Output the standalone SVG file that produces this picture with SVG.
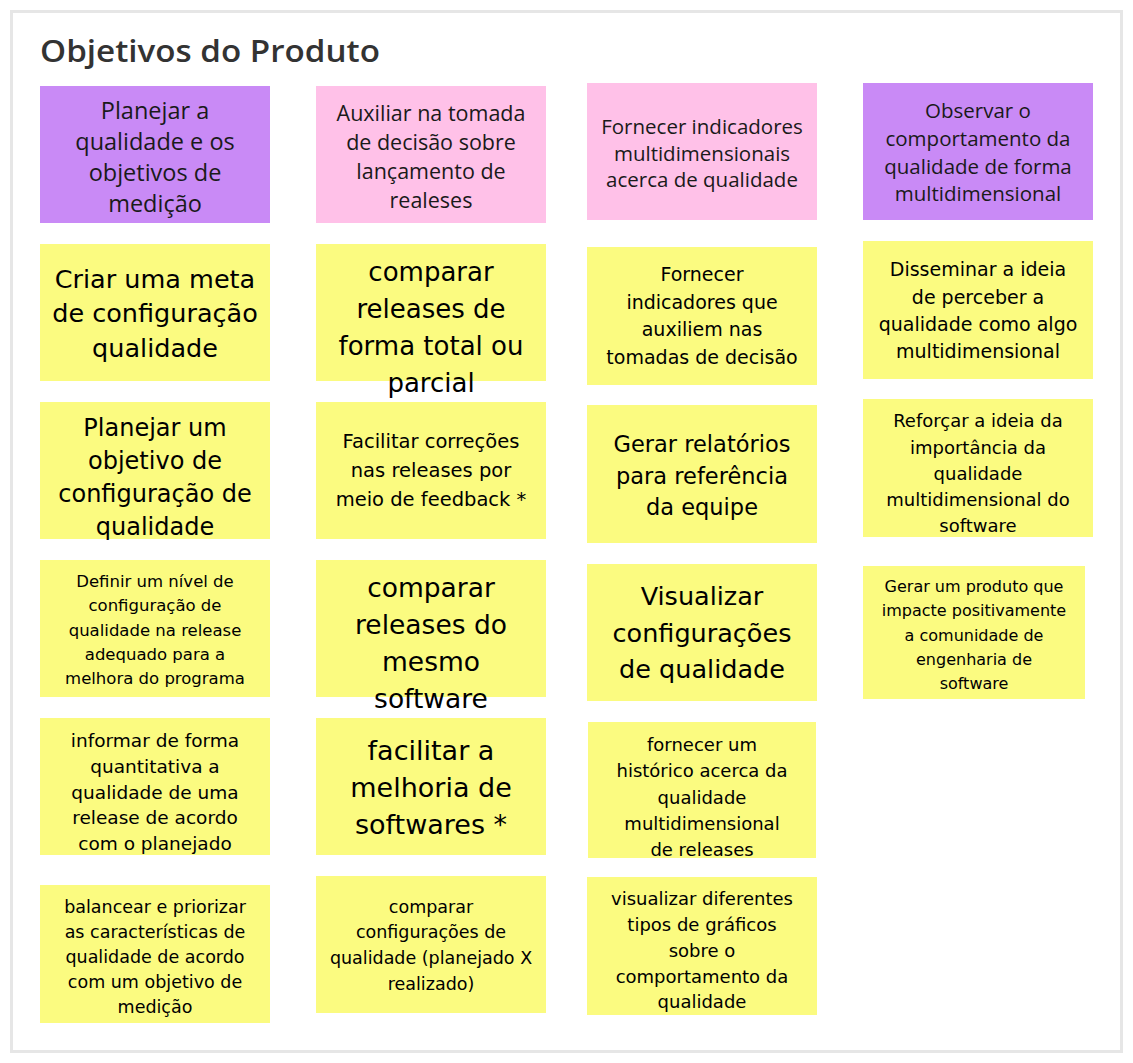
<svg xmlns="http://www.w3.org/2000/svg" width="1133" height="1063" viewBox="0 0 1133 1063">
<style>
.frame{fill:#ffffff;stroke:#e6e6e6;stroke-width:3}
.title{font-family:"Open Sans","Liberation Sans",sans-serif;font-size:31px;font-weight:600;fill:#333333}
.purple{fill:#c98af6}
.pink{fill:#ffc1e8}
.yellow{fill:#fbfb80}
.h{font-family:"Open Sans","Liberation Sans",sans-serif;fill:#1a1a1a;text-anchor:middle;dominant-baseline:central}
.s{font-family:"DejaVu Sans","Liberation Sans",sans-serif;fill:#000000;text-anchor:middle;dominant-baseline:central}
</style>
<rect class="frame" x="11.5" y="11.5" width="1110" height="1040"/>
<text class="title" x="40" y="62" textLength="340" lengthAdjust="spacingAndGlyphs">Objetivos do Produto</text>

<g id="nodes">
<g id="h1"><rect class="purple" x="40" y="86" width="230" height="137"/>
<text class="h" font-size="23.5" x="155"><tspan x="155" y="110">Planejar a</tspan><tspan x="155" y="141">qualidade e os</tspan><tspan x="155" y="172">objetivos de</tspan><tspan x="155" y="203">medição</tspan></text></g>
<g id="h2"><rect class="pink" x="316" y="86" width="230" height="137"/>
<text class="h" font-size="21.5" x="431"><tspan x="431" y="112">Auxiliar na tomada</tspan><tspan x="431" y="141">de decisão sobre</tspan><tspan x="431" y="170">lançamento de</tspan><tspan x="431" y="199">realeses</tspan></text></g>
<g id="h3"><rect class="pink" x="587" y="83" width="230" height="137"/>
<text class="h" font-size="20.5" x="702"><tspan x="702" y="126">Fornecer indicadores</tspan><tspan x="702" y="153">multidimensionais</tspan><tspan x="702" y="179">acerca de qualidade</tspan></text></g>
<g id="h4"><rect class="purple" x="863" y="83" width="230" height="137"/>
<text class="h" font-size="20.5" x="978"><tspan x="978" y="110">Observar o</tspan><tspan x="978" y="138">comportamento da</tspan><tspan x="978" y="166">qualidade de forma</tspan><tspan x="978" y="193">multidimensional</tspan></text></g>

<g id="c1y1"><rect class="yellow" x="40" y="244" width="230" height="137"/>
<text class="s" font-size="25.5" x="155"><tspan x="155" y="279">Criar uma meta</tspan><tspan x="155" y="313">de configuração</tspan><tspan x="155" y="348">qualidade</tspan></text></g>
<g id="c1y2"><rect class="yellow" x="40" y="402" width="230" height="137"/>
<text class="s" font-size="24" x="155"><tspan x="155" y="428">Planejar um</tspan><tspan x="155" y="461">objetivo de</tspan><tspan x="155" y="494">configuração de</tspan><tspan x="155" y="527">qualidade</tspan></text></g>
<g id="c1y3"><rect class="yellow" x="40" y="560" width="230" height="137"/>
<text class="s" font-size="16.5" x="155"><tspan x="155" y="581">Definir um nível de</tspan><tspan x="155" y="605">configuração de</tspan><tspan x="155" y="630">qualidade na release</tspan><tspan x="155" y="654">adequado para a</tspan><tspan x="155" y="678">melhora do programa</tspan></text></g>
<g id="c1y4"><rect class="yellow" x="40" y="718" width="230" height="137"/>
<text class="s" font-size="18.5" x="155"><tspan x="155" y="740">informar de forma</tspan><tspan x="155" y="766">quantitativa a</tspan><tspan x="155" y="792">qualidade de uma</tspan><tspan x="155" y="817">release de acordo</tspan><tspan x="155" y="843">com o planejado</tspan></text></g>
<g id="c1y5"><rect class="yellow" x="40" y="885" width="230" height="138"/>
<text class="s" font-size="17.5" x="155"><tspan x="155" y="907">balancear e priorizar</tspan><tspan x="155" y="932">as características de</tspan><tspan x="155" y="957">qualidade de acordo</tspan><tspan x="155" y="982">com um objetivo de</tspan><tspan x="155" y="1007">medição</tspan></text></g>

<g id="c2y1"><rect class="yellow" x="316" y="244" width="230" height="137"/>
<text class="s" font-size="26" x="431"><tspan x="431" y="272">comparar</tspan><tspan x="431" y="309">releases de</tspan><tspan x="431" y="346">forma total ou</tspan><tspan x="431" y="383">parcial</tspan></text></g>
<g id="c2y2"><rect class="yellow" x="316" y="402" width="230" height="137"/>
<text class="s" font-size="19.5" x="431"><tspan x="431" y="441">Facilitar correções</tspan><tspan x="431" y="470">nas releases por</tspan><tspan x="431" y="499">meio de feedback *</tspan></text></g>
<g id="c2y3"><rect class="yellow" x="316" y="560" width="230" height="137"/>
<text class="s" font-size="26.5" x="431"><tspan x="431" y="587">comparar</tspan><tspan x="431" y="624">releases do</tspan><tspan x="431" y="661">mesmo</tspan><tspan x="431" y="698">software</tspan></text></g>
<g id="c2y4"><rect class="yellow" x="316" y="718" width="230" height="137"/>
<text class="s" font-size="27" x="431"><tspan x="431" y="750">facilitar a</tspan><tspan x="431" y="787">melhoria de</tspan><tspan x="431" y="824">softwares *</tspan></text></g>
<g id="c2y5"><rect class="yellow" x="316" y="876" width="230" height="137"/>
<text class="s" font-size="17.5" x="431"><tspan x="431" y="907">comparar</tspan><tspan x="431" y="932">configurações de</tspan><tspan x="431" y="958">qualidade (planejado X</tspan><tspan x="431" y="984">realizado)</tspan></text></g>

<g id="c3y1"><rect class="yellow" x="587" y="247" width="230" height="138"/>
<text class="s" font-size="19" x="702"><tspan x="702" y="274">Fornecer</tspan><tspan x="702" y="302">indicadores que</tspan><tspan x="702" y="329">auxiliem nas</tspan><tspan x="702" y="357">tomadas de decisão</tspan></text></g>
<g id="c3y2"><rect class="yellow" x="587" y="405" width="230" height="138"/>
<text class="s" font-size="22.5" x="702"><tspan x="702" y="444">Gerar relatórios</tspan><tspan x="702" y="476">para referência</tspan><tspan x="702" y="507">da equipe</tspan></text></g>
<g id="c3y3"><rect class="yellow" x="587" y="564" width="230" height="137"/>
<text class="s" font-size="25.5" x="702"><tspan x="702" y="596">Visualizar</tspan><tspan x="702" y="633">configurações</tspan><tspan x="702" y="669">de qualidade</tspan></text></g>
<g id="c3y4"><rect class="yellow" x="588" y="722" width="228" height="136"/>
<text class="s" font-size="18" x="702"><tspan x="702" y="744">fornecer um</tspan><tspan x="702" y="770">histórico acerca da</tspan><tspan x="702" y="797">qualidade</tspan><tspan x="702" y="823">multidimensional</tspan><tspan x="702" y="849">de releases</tspan></text></g>
<g id="c3y5"><rect class="yellow" x="587" y="877" width="230" height="138"/>
<text class="s" font-size="18" x="702"><tspan x="702" y="898">visualizar diferentes</tspan><tspan x="702" y="924">tipos de gráficos</tspan><tspan x="702" y="950">sobre o</tspan><tspan x="702" y="976">comportamento da</tspan><tspan x="702" y="1001">qualidade</tspan></text></g>

<g id="c4y1"><rect class="yellow" x="863" y="241" width="230" height="138"/>
<text class="s" font-size="19" x="978"><tspan x="978" y="269">Disseminar a ideia</tspan><tspan x="978" y="297">de perceber a</tspan><tspan x="978" y="324">qualidade como algo</tspan><tspan x="978" y="351">multidimensional</tspan></text></g>
<g id="c4y2"><rect class="yellow" x="863" y="399" width="230" height="138"/>
<text class="s" font-size="18" x="978"><tspan x="978" y="420">Reforçar a ideia da</tspan><tspan x="978" y="447">importância da</tspan><tspan x="978" y="473">qualidade</tspan><tspan x="978" y="499">multidimensional do</tspan><tspan x="978" y="525">software</tspan></text></g>
<g id="c4y3"><rect class="yellow" x="863" y="566" width="222" height="133"/>
<text class="s" font-size="16" x="974"><tspan x="974" y="586">Gerar um produto que</tspan><tspan x="974" y="610">impacte positivamente</tspan><tspan x="974" y="635">a comunidade de</tspan><tspan x="974" y="659">engenharia de</tspan><tspan x="974" y="683">software</tspan></text></g>
</g>
<g id="connectors"></g>
</svg>
